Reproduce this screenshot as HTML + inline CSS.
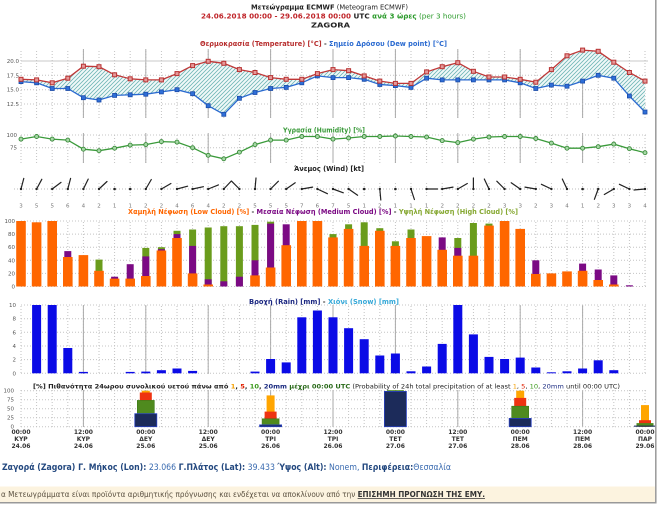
<!DOCTYPE html>
<html><head><meta charset="utf-8">
<style>
html,body{margin:0;padding:0;background:#fff;}
body{width:660px;height:510px;overflow:hidden;}
svg{display:block;font-family:"DejaVu Sans","Liberation Sans",sans-serif;}
</style></head>
<body>
<svg width="660" height="510" viewBox="0 0 660 510" xmlns="http://www.w3.org/2000/svg">
<defs>
<pattern id="vd" x="13.2" y="0" width="15.6" height="3" patternUnits="userSpaceOnUse"><rect x="7.3" y="0" width="1" height="1" fill="#c2c2c2"/></pattern>
<pattern id="vs" x="82.9" y="0" width="62.4" height="10" patternUnits="userSpaceOnUse"><rect x="0" y="0" width="1" height="10" fill="#aaaaaa"/></pattern>
<pattern id="hatch" width="4" height="4" patternUnits="userSpaceOnUse"><path d="M-1,1 l2,-2 M0,4 l4,-4 M3,5 l2,-2" stroke="#6fb6b6" stroke-width="0.8"/></pattern>
<marker id="mr" markerWidth="6" markerHeight="6" refX="3" refY="3" markerUnits="userSpaceOnUse"><rect x="1" y="1" width="4" height="4" fill="#e59a9a" stroke="#b83232" stroke-width="1"/></marker>
<marker id="mb" markerWidth="6" markerHeight="6" refX="3" refY="3" markerUnits="userSpaceOnUse"><rect x="1" y="1" width="4" height="4" fill="#2f6fd8" stroke="#1c4ca8" stroke-width="0.8"/></marker>
<marker id="mg" markerWidth="6" markerHeight="6" refX="3" refY="3" markerUnits="userSpaceOnUse"><circle cx="3" cy="3" r="2" fill="#a6d8a6" stroke="#3a8a3a" stroke-width="0.9"/></marker>
</defs>

<!-- Header -->
<text x="329.5" y="9.5" text-anchor="middle" font-size="7" fill="#222" textLength="157" lengthAdjust="spacingAndGlyphs"><tspan font-weight="bold">Μετεώγραμμα ECMWF</tspan> (Meteogram ECMWF)</text>
<text x="333.5" y="18.5" text-anchor="middle" font-size="7" textLength="265" lengthAdjust="spacingAndGlyphs"><tspan font-weight="bold" fill="#c0262b">24.06.2018 00:00 - 29.06.2018 00:00</tspan><tspan font-weight="bold" fill="#222"> UTC</tspan><tspan font-weight="bold" fill="#2a9a2a"> ανά 3 ώρες</tspan><tspan fill="#2a9a2a"> (per 3 hours)</tspan></text>
<text x="330.5" y="27.5" text-anchor="middle" font-size="7" font-weight="bold" fill="#222" textLength="39" lengthAdjust="spacingAndGlyphs">ZAGORA</text>

<!-- Temperature panel -->
<text x="323.5" y="46" text-anchor="middle" font-size="7" font-weight="bold" textLength="247" lengthAdjust="spacingAndGlyphs"><tspan fill="#b83030">Θερμοκρασία (Temperature) [°C]</tspan><tspan fill="#333"> - </tspan><tspan fill="#2a6ad0">Σημείο Δρόσου (Dew point) [°C]</tspan></text>
<rect x="19" y="49" width="628" height="69" fill="url(#vd)"/>
<rect x="30" y="49" width="605" height="69" fill="url(#vs)"/>
<line x1="21" y1="61" x2="648" y2="61" stroke="#c8c8c8" stroke-width="1"/>
<g stroke="#c4c4c4" stroke-width="1" stroke-dasharray="1,2">
<line x1="21" y1="75.3" x2="648" y2="75.3"/><line x1="21" y1="89.7" x2="648" y2="89.7"/><line x1="21" y1="104" x2="648" y2="104"/>
</g>
<g font-size="5.5" fill="#555" text-anchor="end">
<text x="19" y="63">20.0</text><text x="19" y="77.3">17.5</text><text x="19" y="91.7">15.0</text><text x="19" y="106">12.5</text>
</g>
<polygon fill="#f1f9f9" points="21,79.3 36.6,79.9 52.2,82.8 67.8,78.2 83.4,66.2 99,66.7 114.6,74.8 130.2,78.8 145.8,79.9 161.4,79.9 177,73.6 192.6,65.6 208.2,61.3 223.8,63.3 239.4,69.6 255,72.5 270.6,77.6 286.2,79.3 301.8,79.3 317.4,73.6 333,69.6 348.6,70.7 364.2,75.9 379.8,81.1 395.4,83.4 411,83.4 426.6,71.9 442.2,66.7 457.8,62.7 473.4,71.3 489,77 504.6,77 520.2,79.3 535.8,82.2 551.4,69.6 567,55.8 582.6,50.1 598.2,51.3 613.8,62.2 629.4,72.5 645,81.1 645,112 629.4,96 613.8,78.2 598.2,75.3 582.6,81.1 567,86.2 551.4,85.1 535.8,88.5 520.2,82.8 504.6,79.9 489,79.9 473.4,79.9 457.8,79.9 442.2,79.9 426.6,78.2 411,87.4 395.4,85.6 379.8,84.5 364.2,79.3 348.6,77.6 333,77.6 317.4,75.9 301.8,82.8 286.2,87.4 270.6,88.5 255,92.5 239.4,98.3 223.8,114.3 208.2,105.7 192.6,93.7 177,89.7 161.4,91.9 145.8,94.2 130.2,94.8 114.6,95.4 99,100 83.4,97.7 67.8,88.5 52.2,88.5 36.6,82.8 21,81.6"/>
<polygon fill="url(#hatch)" points="21,79.3 36.6,79.9 52.2,82.8 67.8,78.2 83.4,66.2 99,66.7 114.6,74.8 130.2,78.8 145.8,79.9 161.4,79.9 177,73.6 192.6,65.6 208.2,61.3 223.8,63.3 239.4,69.6 255,72.5 270.6,77.6 286.2,79.3 301.8,79.3 317.4,73.6 333,69.6 348.6,70.7 364.2,75.9 379.8,81.1 395.4,83.4 411,83.4 426.6,71.9 442.2,66.7 457.8,62.7 473.4,71.3 489,77 504.6,77 520.2,79.3 535.8,82.2 551.4,69.6 567,55.8 582.6,50.1 598.2,51.3 613.8,62.2 629.4,72.5 645,81.1 645,112 629.4,96 613.8,78.2 598.2,75.3 582.6,81.1 567,86.2 551.4,85.1 535.8,88.5 520.2,82.8 504.6,79.9 489,79.9 473.4,79.9 457.8,79.9 442.2,79.9 426.6,78.2 411,87.4 395.4,85.6 379.8,84.5 364.2,79.3 348.6,77.6 333,77.6 317.4,75.9 301.8,82.8 286.2,87.4 270.6,88.5 255,92.5 239.4,98.3 223.8,114.3 208.2,105.7 192.6,93.7 177,89.7 161.4,91.9 145.8,94.2 130.2,94.8 114.6,95.4 99,100 83.4,97.7 67.8,88.5 52.2,88.5 36.6,82.8 21,81.6"/>
<polyline fill="none" stroke="#2a6ad0" stroke-width="1.3" marker-start="url(#mb)" marker-mid="url(#mb)" marker-end="url(#mb)" points="21,81.6 36.6,82.8 52.2,88.5 67.8,88.5 83.4,97.7 99,100 114.6,95.4 130.2,94.8 145.8,94.2 161.4,91.9 177,89.7 192.6,93.7 208.2,105.7 223.8,114.3 239.4,98.3 255,92.5 270.6,88.5 286.2,87.4 301.8,82.8 317.4,75.9 333,77.6 348.6,77.6 364.2,79.3 379.8,84.5 395.4,85.6 411,87.4 426.6,78.2 442.2,79.9 457.8,79.9 473.4,79.9 489,79.9 504.6,79.9 520.2,82.8 535.8,88.5 551.4,85.1 567,86.2 582.6,81.1 598.2,75.3 613.8,78.2 629.4,96 645,112"/>
<polyline fill="none" stroke="#c03838" stroke-width="1.3" marker-start="url(#mr)" marker-mid="url(#mr)" marker-end="url(#mr)" points="21,79.3 36.6,79.9 52.2,82.8 67.8,78.2 83.4,66.2 99,66.7 114.6,74.8 130.2,78.8 145.8,79.9 161.4,79.9 177,73.6 192.6,65.6 208.2,61.3 223.8,63.3 239.4,69.6 255,72.5 270.6,77.6 286.2,79.3 301.8,79.3 317.4,73.6 333,69.6 348.6,70.7 364.2,75.9 379.8,81.1 395.4,83.4 411,83.4 426.6,71.9 442.2,66.7 457.8,62.7 473.4,71.3 489,77 504.6,77 520.2,79.3 535.8,82.2 551.4,69.6 567,55.8 582.6,50.1 598.2,51.3 613.8,62.2 629.4,72.5 645,81.1"/>

<!-- Humidity panel -->
<text x="324" y="132.5" text-anchor="middle" font-size="7" font-weight="bold" fill="#3a9a3a" textLength="82" lengthAdjust="spacingAndGlyphs">Υγρασία (Humidity) [%]</text>
<rect x="19" y="133" width="628" height="30" fill="url(#vd)"/>
<rect x="30" y="133" width="605" height="30" fill="url(#vs)"/>
<g stroke="#c4c4c4" stroke-width="1" stroke-dasharray="1,2">
<line x1="21" y1="135" x2="648" y2="135"/><line x1="21" y1="147.7" x2="648" y2="147.7"/>
</g>
<g font-size="5.5" fill="#555" text-anchor="end">
<text x="17" y="137">100</text><text x="17" y="149.7">75</text>
</g>
<polyline fill="none" stroke="#3a9a3a" stroke-width="1.3" marker-start="url(#mg)" marker-mid="url(#mg)" marker-end="url(#mg)" points="21,139.1 36.6,136.5 52.2,139.1 67.8,140.1 83.4,149.2 99,150.7 114.6,148.2 130.2,145.1 145.8,144.6 161.4,141.6 177,142.1 192.6,147.7 208.2,155.3 223.8,158.8 239.4,152.2 255,144.6 270.6,140.1 286.2,140.1 301.8,136.5 317.4,136.5 333,139.1 348.6,138 364.2,136.5 379.8,136.5 395.4,136 411,136.5 426.6,137 442.2,140.6 457.8,142.6 473.4,139.1 489,137 504.6,136.5 520.2,136.5 535.8,138.5 551.4,143.1 567,148.2 582.6,148.2 598.2,146.7 613.8,144.1 629.4,148.7 645,152.7"/>

<!-- Wind panel -->
<text x="329" y="171" text-anchor="middle" font-size="7" font-weight="bold" fill="#222" textLength="70" lengthAdjust="spacingAndGlyphs">Άνεμος (Wind) [kt]</text>
<rect x="19" y="181" width="628" height="16" fill="url(#vd)"/>
<line x1="14" y1="189" x2="650" y2="189" stroke="#bbb" stroke-width="1" stroke-dasharray="1,2"/>
<g stroke="#222" stroke-width="1.2" stroke-linecap="round">
<line x1="21" y1="189" x2="23.8" y2="178.4"/>
<line x1="36.6" y1="189" x2="41.8" y2="179.3"/>
<line x1="52.2" y1="189" x2="61" y2="182.4"/>
<line x1="67.8" y1="189" x2="70.6" y2="178.4"/>
<line x1="83.4" y1="189" x2="88.2" y2="179.1"/>
<line x1="99" y1="189" x2="107" y2="181.5"/>
<line x1="145.8" y1="189" x2="151.3" y2="179.5"/>
<line x1="161.4" y1="189" x2="170.9" y2="183.5"/>
<line x1="177" y1="189" x2="187.6" y2="186.2"/>
<line x1="192.6" y1="189" x2="203.4" y2="186.7"/>
<line x1="208.2" y1="189" x2="218.4" y2="184.9"/>
<line x1="223.8" y1="189" x2="231.3" y2="181"/>
<line x1="239.4" y1="189" x2="231.6" y2="181.2"/>
<line x1="255" y1="189" x2="256" y2="178"/>
<line x1="270.6" y1="189" x2="278.4" y2="181.2"/>
<line x1="286.2" y1="189" x2="295.2" y2="182.7"/>
<line x1="301.8" y1="189" x2="312.6" y2="187.1"/>
<line x1="317.4" y1="189" x2="327.4" y2="193.7"/>
<line x1="333" y1="189" x2="343.3" y2="192.8"/>
<line x1="348.6" y1="189" x2="357.6" y2="195.3"/>
<line x1="379.8" y1="189" x2="380.8" y2="200"/>
<line x1="411" y1="189" x2="414.4" y2="199.5"/>
<line x1="426.6" y1="189" x2="437.6" y2="189"/>
<line x1="442.2" y1="189" x2="453" y2="187.1"/>
<line x1="457.8" y1="189" x2="467.3" y2="183.5"/>
<line x1="473.4" y1="189" x2="473.4" y2="178"/>
<line x1="489" y1="189" x2="484.3" y2="179"/>
<line x1="504.6" y1="189" x2="496.8" y2="181.2"/>
<line x1="520.2" y1="189" x2="511.2" y2="182.7"/>
<line x1="535.8" y1="189" x2="525" y2="187.1"/>
<line x1="551.4" y1="189" x2="541.4" y2="184.3"/>
<line x1="567" y1="189" x2="562.3" y2="179"/>
<line x1="598.2" y1="189" x2="594.4" y2="199.3"/>
<line x1="613.8" y1="189" x2="604.3" y2="194.5"/>
<line x1="629.4" y1="189" x2="619.4" y2="184.3"/>
<line x1="645" y1="189" x2="634" y2="190"/>
</g>
<g fill="#222">
<circle cx="21" cy="189" r="1.2"/><circle cx="36.6" cy="189" r="1.2"/><circle cx="52.2" cy="189" r="1.2"/><circle cx="67.8" cy="189" r="1.2"/><circle cx="83.4" cy="189" r="1.2"/><circle cx="99" cy="189" r="1.2"/><circle cx="114.6" cy="189" r="1.3"/><circle cx="130.2" cy="189" r="1.3"/><circle cx="145.8" cy="189" r="1.2"/><circle cx="161.4" cy="189" r="1.2"/><circle cx="177" cy="189" r="1.2"/><circle cx="192.6" cy="189" r="1.2"/><circle cx="208.2" cy="189" r="1.2"/><circle cx="223.8" cy="189" r="1.2"/><circle cx="239.4" cy="189" r="1.2"/><circle cx="255" cy="189" r="1.2"/><circle cx="270.6" cy="189" r="1.2"/><circle cx="286.2" cy="189" r="1.2"/><circle cx="301.8" cy="189" r="1.2"/><circle cx="317.4" cy="189" r="1.2"/><circle cx="333" cy="189" r="1.2"/><circle cx="348.6" cy="189" r="1.2"/><circle cx="364.2" cy="189" r="1.3"/><circle cx="379.8" cy="189" r="1.2"/><circle cx="395.4" cy="189" r="1.3"/><circle cx="411" cy="189" r="1.2"/><circle cx="426.6" cy="189" r="1.2"/><circle cx="442.2" cy="189" r="1.2"/><circle cx="457.8" cy="189" r="1.2"/><circle cx="473.4" cy="189" r="1.2"/><circle cx="489" cy="189" r="1.2"/><circle cx="504.6" cy="189" r="1.2"/><circle cx="520.2" cy="189" r="1.2"/><circle cx="535.8" cy="189" r="1.2"/><circle cx="551.4" cy="189" r="1.2"/><circle cx="567" cy="189" r="1.2"/><circle cx="582.6" cy="189" r="1.3"/><circle cx="598.2" cy="189" r="1.2"/><circle cx="613.8" cy="189" r="1.2"/><circle cx="629.4" cy="189" r="1.2"/><circle cx="645" cy="189" r="1.2"/>
</g>
<g font-size="5.5" fill="#777" text-anchor="middle">
<text x="21" y="207.5">3</text><text x="36.6" y="207.5">5</text><text x="52.2" y="207.5">5</text><text x="67.8" y="207.5">6</text><text x="83.4" y="207.5">4</text><text x="99" y="207.5">2</text><text x="114.6" y="207.5">1</text><text x="130.2" y="207.5">1</text><text x="145.8" y="207.5">2</text><text x="161.4" y="207.5">2</text><text x="177" y="207.5">4</text><text x="192.6" y="207.5">6</text><text x="208.2" y="207.5">4</text><text x="223.8" y="207.5">2</text><text x="239.4" y="207.5">2</text><text x="255" y="207.5">5</text><text x="270.6" y="207.5">5</text><text x="286.2" y="207.5">5</text><text x="301.8" y="207.5">7</text><text x="317.4" y="207.5">6</text><text x="333" y="207.5">7</text><text x="348.6" y="207.5">5</text><text x="364.2" y="207.5">1</text><text x="379.8" y="207.5">2</text><text x="395.4" y="207.5">1</text><text x="411" y="207.5">1</text><text x="426.6" y="207.5">1</text><text x="442.2" y="207.5">2</text><text x="457.8" y="207.5">2</text><text x="473.4" y="207.5">2</text><text x="489" y="207.5">2</text><text x="504.6" y="207.5">3</text><text x="520.2" y="207.5">3</text><text x="535.8" y="207.5">2</text><text x="551.4" y="207.5">3</text><text x="567" y="207.5">4</text><text x="582.6" y="207.5">1</text><text x="598.2" y="207.5">2</text><text x="613.8" y="207.5">3</text><text x="629.4" y="207.5">3</text><text x="645" y="207.5">4</text>
</g>

<!-- Cloud panel -->
<text x="323" y="214" text-anchor="middle" font-size="7" font-weight="bold" textLength="390" lengthAdjust="spacingAndGlyphs"><tspan fill="#ff6600">Χαμηλή Νέφωση (Low Cloud) [%]</tspan><tspan fill="#333"> - </tspan><tspan fill="#7b0a84">Μεσαία Νέφωση (Medium Cloud) [%]</tspan><tspan fill="#333"> - </tspan><tspan fill="#86a832">Υψηλή Νέφωση (High Cloud) [%]</tspan></text>
<rect x="19" y="221" width="628" height="66" fill="url(#vd)"/>
<g stroke="#c4c4c4" stroke-width="1" stroke-dasharray="1,2">
<line x1="21" y1="221" x2="648" y2="221"/><line x1="21" y1="234.1" x2="648" y2="234.1"/><line x1="21" y1="247.2" x2="648" y2="247.2"/><line x1="21" y1="260.3" x2="648" y2="260.3"/><line x1="21" y1="273.4" x2="648" y2="273.4"/><line x1="21" y1="286.5" x2="648" y2="286.5"/>
</g>
<g font-size="5.5" fill="#555" text-anchor="end">
<text x="15" y="223">100</text><text x="15" y="236.1">80</text><text x="15" y="249.2">60</text><text x="15" y="262.3">40</text><text x="15" y="275.4">20</text><text x="15" y="288.5">0</text>
</g>
<g fill="#6a9c1c">
<rect x="95.5" y="259.6" width="7" height="26.9"/>
<rect x="142.3" y="247.9" width="7" height="38.6"/>
<rect x="157.9" y="247.2" width="7" height="39.3"/>
<rect x="173.5" y="230.8" width="7" height="55.7"/>
<rect x="189.1" y="229.5" width="7" height="57"/>
<rect x="204.7" y="227.5" width="7" height="59"/>
<rect x="220.3" y="226.2" width="7" height="60.3"/>
<rect x="235.9" y="226.2" width="7" height="60.3"/>
<rect x="251.5" y="224.9" width="7" height="61.6"/>
<rect x="267.1" y="221.7" width="7" height="64.8"/>
<rect x="329.5" y="234.1" width="7" height="52.4"/>
<rect x="345.1" y="224.3" width="7" height="62.2"/>
<rect x="360.7" y="222.3" width="7" height="64.2"/>
<rect x="376.3" y="228.2" width="7" height="58.3"/>
<rect x="391.9" y="241.3" width="7" height="45.2"/>
<rect x="407.5" y="229.5" width="7" height="57"/>
<rect x="454.3" y="238" width="7" height="48.5"/>
<rect x="469.9" y="223" width="7" height="63.5"/>
<rect x="485.5" y="223.6" width="7" height="62.9"/>
</g>
<g fill="#7b0a84">
<rect x="64.3" y="251.1" width="7" height="35.4"/>
<rect x="111.1" y="276.7" width="7" height="9.8"/>
<rect x="126.7" y="264.2" width="7" height="22.3"/>
<rect x="142.3" y="256.4" width="7" height="30.1"/>
<rect x="157.9" y="249.2" width="7" height="37.3"/>
<rect x="173.5" y="234.1" width="7" height="52.4"/>
<rect x="189.1" y="245.9" width="7" height="40.6"/>
<rect x="204.7" y="279.3" width="7" height="7.2"/>
<rect x="220.3" y="281.3" width="7" height="5.2"/>
<rect x="235.9" y="276.7" width="7" height="9.8"/>
<rect x="251.5" y="260.3" width="7" height="26.2"/>
<rect x="267.1" y="223.6" width="7" height="62.9"/>
<rect x="282.7" y="224.3" width="7" height="62.2"/>
<rect x="438.7" y="237.4" width="7" height="49.1"/>
<rect x="454.3" y="247.9" width="7" height="38.6"/>
<rect x="532.3" y="260.3" width="7" height="26.2"/>
<rect x="579.1" y="263.6" width="7" height="22.9"/>
<rect x="594.7" y="269.5" width="7" height="17"/>
<rect x="610.3" y="275.4" width="7" height="11.1"/>
<rect x="625.9" y="285.3" width="7" height="1.2"/>
</g>
<g fill="#ff6600">
<rect x="16.2" y="221" width="9.6" height="65.5"/>
<rect x="31.8" y="222.3" width="9.6" height="64.2"/>
<rect x="47.4" y="221" width="9.6" height="65.5"/>
<rect x="63" y="257" width="9.6" height="29.5"/>
<rect x="78.6" y="255.1" width="9.6" height="31.4"/>
<rect x="94.2" y="270.8" width="9.6" height="15.7"/>
<rect x="109.8" y="278.6" width="9.6" height="7.9"/>
<rect x="125.4" y="278.6" width="9.6" height="7.9"/>
<rect x="141" y="276" width="9.6" height="10.5"/>
<rect x="156.6" y="250.5" width="9.6" height="36"/>
<rect x="172.2" y="238" width="9.6" height="48.5"/>
<rect x="187.8" y="273.4" width="9.6" height="13.1"/>
<rect x="203.4" y="284.5" width="9.6" height="2"/>
<rect x="250.2" y="275.4" width="9.6" height="11.1"/>
<rect x="265.8" y="267.5" width="9.6" height="19"/>
<rect x="281.4" y="245.2" width="9.6" height="41.3"/>
<rect x="297" y="221" width="9.6" height="65.5"/>
<rect x="312.6" y="221" width="9.6" height="65.5"/>
<rect x="328.2" y="237.4" width="9.6" height="49.1"/>
<rect x="343.8" y="228.9" width="9.6" height="57.6"/>
<rect x="359.4" y="245.9" width="9.6" height="40.6"/>
<rect x="375" y="230.8" width="9.6" height="55.7"/>
<rect x="390.6" y="245.9" width="9.6" height="40.6"/>
<rect x="406.2" y="238" width="9.6" height="48.5"/>
<rect x="421.8" y="236.1" width="9.6" height="50.4"/>
<rect x="437.4" y="249.8" width="9.6" height="36.7"/>
<rect x="453" y="255.7" width="9.6" height="30.8"/>
<rect x="468.6" y="255.7" width="9.6" height="30.8"/>
<rect x="484.2" y="225.6" width="9.6" height="60.9"/>
<rect x="499.8" y="221" width="9.6" height="65.5"/>
<rect x="515.4" y="228.9" width="9.6" height="57.6"/>
<rect x="531" y="274" width="9.6" height="12.5"/>
<rect x="546.6" y="273.4" width="9.6" height="13.1"/>
<rect x="562.2" y="271.4" width="9.6" height="15.1"/>
<rect x="577.8" y="270.8" width="9.6" height="15.7"/>
<rect x="593.4" y="280" width="9.6" height="6.5"/>
<rect x="609" y="284.5" width="9.6" height="2"/>
</g>

<!-- Rain panel -->
<text x="324" y="304" text-anchor="middle" font-size="7" font-weight="bold" textLength="150" lengthAdjust="spacingAndGlyphs"><tspan fill="#1a2680">Βροχή (Rain) [mm]</tspan><tspan fill="#333"> - </tspan><tspan fill="#35a8d8">Χιόνι (Snow) [mm]</tspan></text>
<rect x="19" y="305" width="628" height="69" fill="url(#vd)"/>
<rect x="30" y="305" width="605" height="69" fill="url(#vs)"/>
<g stroke="#c4c4c4" stroke-width="1" stroke-dasharray="1,2">
<line x1="21" y1="305" x2="648" y2="305"/><line x1="21" y1="318.7" x2="648" y2="318.7"/><line x1="21" y1="332.3" x2="648" y2="332.3"/><line x1="21" y1="346" x2="648" y2="346"/><line x1="21" y1="359.6" x2="648" y2="359.6"/><line x1="21" y1="373.3" x2="648" y2="373.3"/>
</g>
<g font-size="5.5" fill="#555" text-anchor="end">
<text x="16" y="307">10</text><text x="16" y="320.7">8</text><text x="16" y="334.3">6</text><text x="16" y="348">4</text><text x="16" y="361.6">2</text><text x="16" y="375.3">0</text>
</g>
<g fill="#0b0be6">
<rect x="32.1" y="305" width="9" height="68.3"/>
<rect x="47.7" y="305" width="9" height="68.3"/>
<rect x="63.3" y="348" width="9" height="25.3"/>
<rect x="78.9" y="371.9" width="9" height="1.4"/>
<rect x="125.7" y="371.9" width="9" height="1.4"/>
<rect x="141.3" y="371.6" width="9" height="1.7"/>
<rect x="156.9" y="370.2" width="9" height="3.1"/>
<rect x="172.5" y="368.5" width="9" height="4.8"/>
<rect x="188.1" y="370.9" width="9" height="2.4"/>
<rect x="250.5" y="371.6" width="9" height="1.7"/>
<rect x="266.1" y="359" width="9" height="14.3"/>
<rect x="281.7" y="362.4" width="9" height="10.9"/>
<rect x="297.3" y="317.3" width="9" height="56"/>
<rect x="312.9" y="310.5" width="9" height="62.8"/>
<rect x="328.5" y="317.3" width="9" height="56"/>
<rect x="344.1" y="328.2" width="9" height="45.1"/>
<rect x="359.7" y="339.2" width="9" height="34.1"/>
<rect x="375.3" y="355.5" width="9" height="17.8"/>
<rect x="390.9" y="353.5" width="9" height="19.8"/>
<rect x="406.5" y="371.3" width="9" height="2"/>
<rect x="422.1" y="366.5" width="9" height="6.8"/>
<rect x="437.7" y="343.9" width="9" height="29.4"/>
<rect x="453.3" y="305" width="9" height="68.3"/>
<rect x="468.9" y="334.4" width="9" height="38.9"/>
<rect x="484.5" y="356.9" width="9" height="16.4"/>
<rect x="500.1" y="359" width="9" height="14.3"/>
<rect x="515.7" y="357.6" width="9" height="15.7"/>
<rect x="531.3" y="367.5" width="9" height="5.8"/>
<rect x="546.9" y="372.3" width="9" height="1"/>
<rect x="562.5" y="371.3" width="9" height="2"/>
<rect x="578.1" y="368.5" width="9" height="4.8"/>
<rect x="593.7" y="360.3" width="9" height="13"/>
<rect x="609.3" y="370.2" width="9" height="3.1"/>
</g>

<!-- Probability panel -->
<text x="33" y="388.5" font-size="6.5" fill="#222" textLength="587" lengthAdjust="spacingAndGlyphs"><tspan font-weight="bold">[%] Πιθανότητα 24ωρου συνολικού υετού πάνω από </tspan><tspan font-weight="bold" fill="#f5a000">1</tspan><tspan font-weight="bold">, </tspan><tspan font-weight="bold" fill="#e02000">5</tspan><tspan font-weight="bold">, </tspan><tspan font-weight="bold" fill="#3a9a1a">10</tspan><tspan font-weight="bold">, </tspan><tspan font-weight="bold" fill="#1a2a80">20mm</tspan><tspan font-weight="bold" fill="#2a6a1a"> μέχρι 00:00 UTC</tspan> (Probability of 24h total precipitation of at least <tspan fill="#f5a000">1</tspan>, <tspan fill="#e02000">5</tspan>, <tspan fill="#3a9a1a">10</tspan>, <tspan fill="#1a2a80">20mm</tspan> until 00:00 UTC)</text>
<rect x="19" y="390" width="628" height="37" fill="url(#vd)"/>
<rect x="30" y="390" width="605" height="37" fill="url(#vs)"/>
<g stroke="#c4c4c4" stroke-width="1" stroke-dasharray="1,2">
<line x1="21" y1="390.7" x2="648" y2="390.7"/><line x1="21" y1="399.7" x2="648" y2="399.7"/><line x1="21" y1="408.7" x2="648" y2="408.7"/><line x1="21" y1="417.7" x2="648" y2="417.7"/><line x1="21" y1="426.7" x2="648" y2="426.7"/>
</g>
<g font-size="5.5" fill="#555" text-anchor="end">
<text x="14" y="392.7">100</text><text x="14" y="401.7">75</text><text x="14" y="410.7">50</text><text x="14" y="419.7">25</text><text x="14" y="428.7">0</text>
</g>
<g>
<rect x="141.8" y="390.7" width="8" height="36" fill="#ffa500"/>
<rect x="139.8" y="392.5" width="12" height="34.2" fill="#ee3311"/>
<rect x="137.3" y="400.4" width="17" height="26.3" fill="#4f8a1e" stroke="#3a7a18" stroke-width="0.6"/>
<rect x="134.8" y="413.7" width="22" height="13" fill="#1c2b5a" stroke="#2840c0" stroke-width="0.8"/>

<rect x="266.6" y="395.4" width="8" height="31.3" fill="#ffa500"/>
<rect x="264.6" y="411.6" width="12" height="15.1" fill="#ee3311"/>
<rect x="262.1" y="418.8" width="17" height="7.9" fill="#4f8a1e" stroke="#3a7a18" stroke-width="0.6"/>
<rect x="259.6" y="424.9" width="22" height="1.8" fill="#1c2b5a" stroke="#2840c0" stroke-width="0.8"/>

<rect x="391.4" y="390.7" width="8" height="36" fill="#ffa500"/>
<rect x="389.4" y="390.7" width="12" height="36" fill="#ee3311"/>
<rect x="386.9" y="390.2" width="17" height="36.5" fill="#4f8a1e"/>
<rect x="384.4" y="391.4" width="22" height="35.3" fill="#1c2b5a" stroke="#2840c0" stroke-width="0.8"/>

<rect x="516.2" y="390.7" width="8" height="36" fill="#ffa500"/>
<rect x="514.2" y="397.9" width="12" height="28.8" fill="#ee3311"/>
<rect x="511.7" y="406.2" width="17" height="20.5" fill="#4f8a1e" stroke="#3a7a18" stroke-width="0.6"/>
<rect x="509.2" y="418.4" width="22" height="8.3" fill="#1c2b5a" stroke="#2840c0" stroke-width="0.8"/>

<rect x="641" y="405.1" width="8" height="21.6" fill="#ffa500"/>
<rect x="639" y="420.2" width="12" height="6.5" fill="#ee3311"/>
<rect x="636.5" y="423.1" width="17" height="3.6" fill="#4f8a1e"/>
<rect x="634" y="425.6" width="22" height="1.1" fill="#1c2b5a"/>
</g>

<!-- X axis labels -->
<g font-size="6" font-weight="bold" fill="#333" text-anchor="middle">
<text x="21" y="434">00:00</text><text x="21" y="441">ΚΥΡ</text><text x="21" y="448">24.06</text>
<text x="83.4" y="434">12:00</text><text x="83.4" y="441">ΚΥΡ</text><text x="83.4" y="448">24.06</text>
<text x="145.8" y="434">00:00</text><text x="145.8" y="441">ΔΕΥ</text><text x="145.8" y="448">25.06</text>
<text x="208.2" y="434">12:00</text><text x="208.2" y="441">ΔΕΥ</text><text x="208.2" y="448">25.06</text>
<text x="270.6" y="434">00:00</text><text x="270.6" y="441">ΤΡΙ</text><text x="270.6" y="448">26.06</text>
<text x="333" y="434">12:00</text><text x="333" y="441">ΤΡΙ</text><text x="333" y="448">26.06</text>
<text x="395.4" y="434">00:00</text><text x="395.4" y="441">ΤΕΤ</text><text x="395.4" y="448">27.06</text>
<text x="457.8" y="434">12:00</text><text x="457.8" y="441">ΤΕΤ</text><text x="457.8" y="448">27.06</text>
<text x="520.2" y="434">00:00</text><text x="520.2" y="441">ΠΕΜ</text><text x="520.2" y="448">28.06</text>
<text x="582.6" y="434">12:00</text><text x="582.6" y="441">ΠΕΜ</text><text x="582.6" y="448">28.06</text>
<text x="645" y="434">00:00</text><text x="645" y="441">ΠΑΡ</text><text x="645" y="448">29.06</text>
</g>

<!-- Footer -->
<text x="2" y="470" font-size="9" textLength="449" lengthAdjust="spacingAndGlyphs"><tspan font-weight="bold" fill="#23487f">Ζαγορά (Zagora) Γ. Μήκος (Lon):</tspan><tspan fill="#3a6bb0"> 23.066 </tspan><tspan font-weight="bold" fill="#23487f">Γ.Πλάτος (Lat):</tspan><tspan fill="#3a6bb0"> 39.433 </tspan><tspan font-weight="bold" fill="#23487f">Ύψος (Alt):</tspan><tspan fill="#3a6bb0"> Nonem, </tspan><tspan font-weight="bold" fill="#23487f">Περιφέρεια:</tspan><tspan fill="#3a6bb0">Θεσσαλία</tspan></text>
<rect x="0" y="486.5" width="655" height="15.5" fill="#fcf3df"/>
<text x="1" y="497" font-size="7.5" fill="#5a5040" textLength="484" lengthAdjust="spacingAndGlyphs">α Μετεωγράμματα είναι προϊόντα αριθμητικής πρόγνωσης και ενδέχεται να αποκλίνουν από την <tspan font-weight="bold" fill="#333" text-decoration="underline">ΕΠΙΣΗΜΗ ΠΡΟΓΝΩΣΗ ΤΗΣ ΕΜΥ.</tspan></text>
<line x1="0" y1="502.8" x2="656.5" y2="502.8" stroke="#999" stroke-width="1.5"/>
<line x1="655.8" y1="0" x2="655.8" y2="503.5" stroke="#999" stroke-width="1.5"/>
</svg>
</body></html>
